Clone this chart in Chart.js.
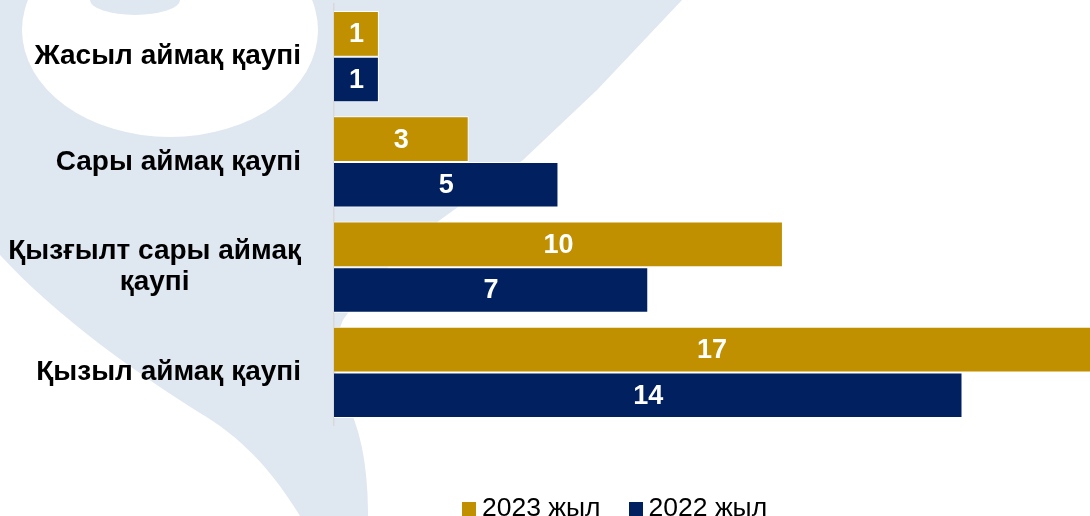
<!DOCTYPE html>
<html>
<head>
<meta charset="utf-8">
<script src="https://cdn.jsdelivr.net/npm/chart.js@4.4.1/dist/chart.umd.min.js"></script>
<style>
  html, body { margin: 0; padding: 0; background: #fff; }
  #wrap { position: relative; width: 1090px; height: 516px; overflow: hidden; }
  #bg { position: absolute; left: 0; top: 0; }
  #chartBox { position: absolute; left: 0; top: 0; width: 1090px; height: 516px; }
  #legend {
    position: absolute; top: 494px; left: 462px;
    display: flex; align-items: center;
    font-family: "Liberation Sans", Arial, sans-serif; font-size: 26.5px; line-height: 26px; color: #000;
  }
  #legend .item { display: flex; align-items: center; margin-right: 28px; }
  #legend .box { width: 14px; height: 14px; margin-right: 6px; margin-top: 3px; }
</style>
</head>
<body>
<div id="wrap">
  <svg id="bg" width="1090" height="516" viewBox="0 0 1090 516">
    <path fill="#DFE7F1" d="M0,0 L682,0 L597,90 L523,160 L440,220 Q370,280 343,320 Q325,360 345,400 Q368,440 368,516 L300,516 C260,450 220,425 200,413 C140,375 60,320 0,255 Z"/>
    <ellipse fill="#ffffff" cx="170" cy="30" rx="148" ry="107"/>
    <ellipse fill="#DFE7F1" cx="135" cy="0" rx="45" ry="15"/>
  </svg>
  <div id="chartBox"><canvas id="riskChart"></canvas></div>
  <div id="legend"></div>
</div>
<script>
// categories (multi-line labels as arrays)
const categories = [
  ['Жасыл аймақ қаупі'],
  ['Сары аймақ қаупі'],
  ['Қызғылт сары аймақ', 'қаупі'],
  ['Қызыл аймақ қаупі']
];
const seriesNames = ['2023 жыл', '2022 жыл'];
const values2023 = [1, 3, 10, 17];
const values2022 = [1, 5, 7, 14];
const seriesColors = ['#C09000', '#002060'];

const fontFamily = '"Liberation Sans", Arial, sans-serif';

// category labels: block right-aligned, lines centred inside the block
const categoryLabels = {
  id: 'categoryLabels',
  afterDraw(chart) {
    const ctx = chart.ctx;
    const yScale = chart.scales.y;
    const right = 301;
    const lineH = 31;
    ctx.save();
    ctx.font = 'bold 28px ' + fontFamily;
    ctx.fillStyle = '#000';
    ctx.textAlign = 'center';
    ctx.textBaseline = 'middle';
    categories.forEach((lines, i) => {
      const cy = yScale.getPixelForTick(i);
      const blockW = Math.max(...lines.map(l => ctx.measureText(l).width));
      const cx = right - blockW / 2;
      const top = cy - (lines.length - 1) * lineH / 2;
      lines.forEach((l, j) => ctx.fillText(l, cx, top + j * lineH));
    });
    ctx.restore();
  }
};

// value labels inside the bars
const valueLabels = {
  id: 'valueLabels',
  afterDatasetsDraw(chart) {
    const ctx = chart.ctx;
    const area = chart.chartArea;
    ctx.save();
    ctx.font = 'bold 27px ' + fontFamily;
    ctx.fillStyle = '#fff';
    ctx.textAlign = 'center';
    ctx.textBaseline = 'middle';
    chart.data.datasets.forEach((ds, di) => {
      chart.getDatasetMeta(di).data.forEach((bar, i) => {
        const end = Math.min(bar.x, area.right);
        ctx.fillText(String(ds.data[i]), (bar.base + end) / 2, bar.y + 1);
      });
    });
    ctx.restore();
  }
};

const ctx = document.getElementById('riskChart').getContext('2d');
new Chart(ctx, {
  type: 'bar',
  data: {
    labels: categories,
    datasets: [
      {label: seriesNames[0], data: values2023, backgroundColor: seriesColors[0],
        borderColor: '#ffffff', borderWidth: 1},
      {label: seriesNames[1], data: values2022, backgroundColor: seriesColors[1],
        borderColor: '#ffffff', borderWidth: 1}
    ]
  },
  options: {
    indexAxis: 'y',
    responsive: true,
    maintainAspectRatio: false,
    animation: false,
    layout: {padding: {top: 4, bottom: 91, left: 0, right: 0}},
    datasets: {bar: {categoryPercentage: 0.865, barPercentage: 1}},
    plugins: {legend: {display: false}, tooltip: {enabled: false}},
    scales: {
      x: {display: false, min: 0, max: 16.84},
      y: {
        grid: {display: false},
        border: {display: true, color: '#D9D9D9', width: 1.5},
        ticks: {display: false},
        afterFit(scale) { scale.width = 334; }
      }
    }
  },
  plugins: [categoryLabels, valueLabels]
});

// legend
const legend = document.getElementById('legend');
seriesNames.forEach((name, i) => {
  const item = document.createElement('div');
  item.className = 'item';
  const box = document.createElement('span');
  box.className = 'box';
  box.style.background = seriesColors[i];
  const txt = document.createElement('span');
  txt.textContent = name;
  item.appendChild(box);
  item.appendChild(txt);
  legend.appendChild(item);
});
</script>
</body>
</html>
